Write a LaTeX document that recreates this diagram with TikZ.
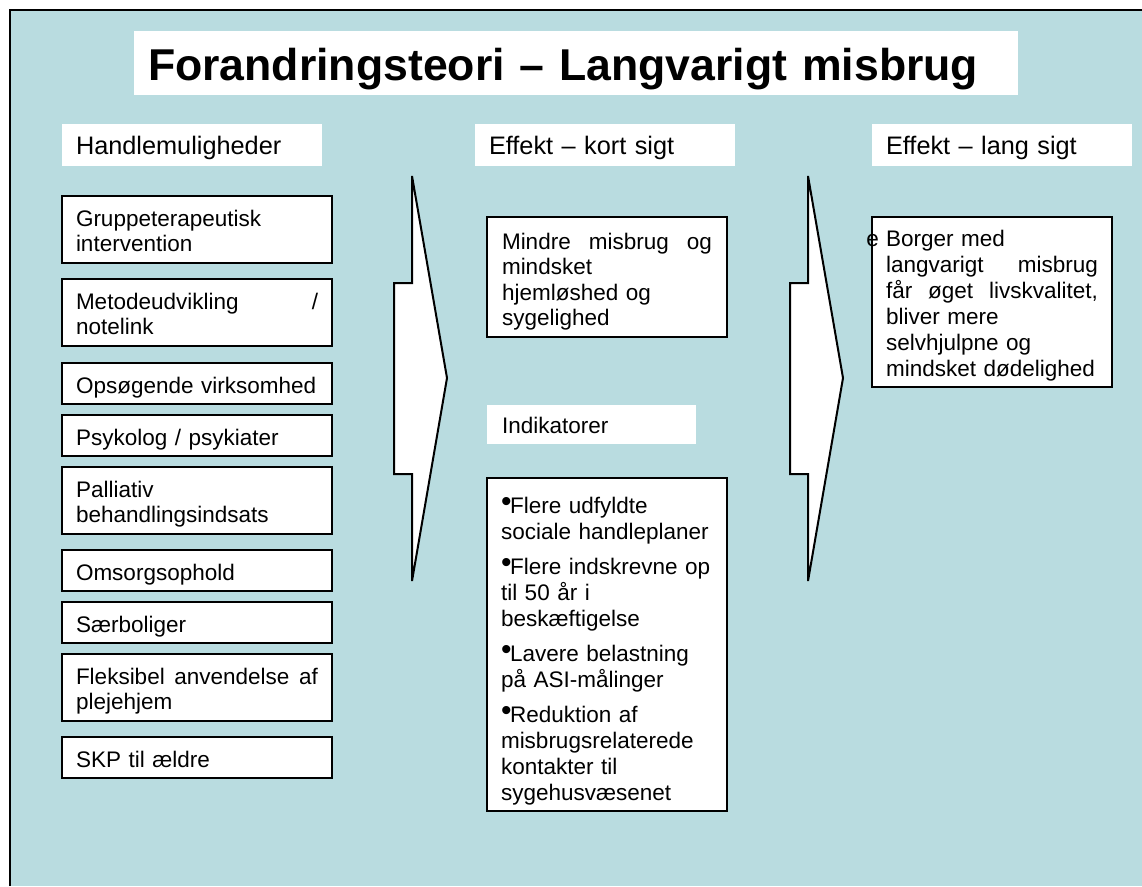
\documentclass[tikz,border=0pt]{standalone}
\usepackage{fontspec}
\setmainfont{Liberation Sans}
\usetikzlibrary{positioning}

\definecolor{slidebg}{RGB}{185,220,224}
\newcommand{\fyld}{\hspace{\fill}}
\newcommand{\punkt}{{\fontsize{30}{30}\selectfont\raisebox{1.5pt}{•}}\kern-1.5pt}

\begin{document}
\begin{tikzpicture}[x=1pt,y=-1pt,
  every node/.style={anchor=north west, outer sep=0pt, inner ysep=0pt, inner xsep=14pt, align=left}]
\tikzstyle{overskrift}=[fill=white, text width=232pt, text height=30pt, text depth=12pt, font=\fontsize{25.3}{29}\selectfont]
\tikzstyle{boks}=[draw=black, line width=2pt, fill=white, text width=242pt, text height=30pt, font=\fontsize{22.5}{25.5}\selectfont, execute at end node={\rule[-11pt]{0pt}{0pt}}]
\tikzstyle{pil}=[draw=black, line width=2pt, fill=white, line join=miter]
\useasboundingbox (0,0) rectangle (1142,886);
% baggrund
\fill[slidebg] (10,10) rectangle (1142,886);
\draw[line width=2pt] (10,886) -- (10,10) -- (1142,10);

\node[fill=white, text width=856pt, text height=49pt, text depth=15pt, font=\fontsize{44.6}{50}\selectfont\bfseries] (titel) at (134,31) {Forandringsteori – Langvarigt misbrug};

\node[overskrift] (handle) at (62,124) {Handlemuligheder};
\node[overskrift] (kort) at (475,124) {Effekt – kort sigt};
\node[overskrift] (lang) at (872,124) {Effekt – lang sigt};

% handlemuligheder
\node[boks] (h1) at (62,196) {Gruppeterapeutisk\\intervention};
\node[boks] (h2) at (62,279) {Metodeudvikling\fyld /\\notelink};
\node[boks] (h3) at (62,363) {Opsøgende virksomhed};
\node[boks] (h4) at (62,415) {Psykolog / psykiater};
\node[boks] (h5) at (62,467) {Palliativ\\behandlingsindsats};
\node[boks] (h6) at (62,550) {Omsorgsophold};
\node[boks] (h7) at (62,602) {Særboliger};
\node[boks] (h8) at (62,654) {Fleksibel\fyld anvendelse\fyld af\\plejehjem};
\node[boks] (h9) at (62,737) {SKP til ældre};

% pile
\foreach \x in {412,808}
  \draw[pil] (\x,176) -- (\x+35,378) -- (\x,581) -- (\x,474) -- (\x-18,474) -- (\x-18,283) -- (\x,283) -- cycle;

% kort sigt
\node[boks, text width=210pt, inner xsep=15pt, text height=32pt] (mindre) at (487,217)
  {Mindre\fyld misbrug\fyld og\\mindsket\\hjemløshed og\\sygelighed};
\node[fill=white, text width=179pt, inner xsep=15pt, text height=28pt, text depth=11pt, font=\fontsize{22.5}{25.5}\selectfont] (indik) at (487,405) {Indikatorer};
\node[boks, text width=212pt, inner xsep=14pt, text height=35pt, font=\fontsize{22.5}{26}\selectfont] (indboks) at (487,478)
  {\punkt Flere udfyldte\\sociale handleplaner\\[9pt]
   \punkt Flere indskrevne op\\til 50 år i\\beskæftigelse\\[9pt]
   \punkt Lavere belastning\\på ASI-målinger\\[9pt]
   \punkt Reduktion af\\misbrugsrelaterede\\kontakter til\\sygehusvæsenet};

% lang sigt
\node[boks, text width=212pt, inner xsep=14pt, text height=29pt, font=\fontsize{22.5}{26}\selectfont] (borger) at (872,217)
  {\llap{e\hspace{7pt}}Borger med\\langvarigt\fyld misbrug\\får\fyld øget\fyld livskvalitet,\\bliver mere\\selvhjulpne og\\mindsket dødelighed};
\end{tikzpicture}
\end{document}
